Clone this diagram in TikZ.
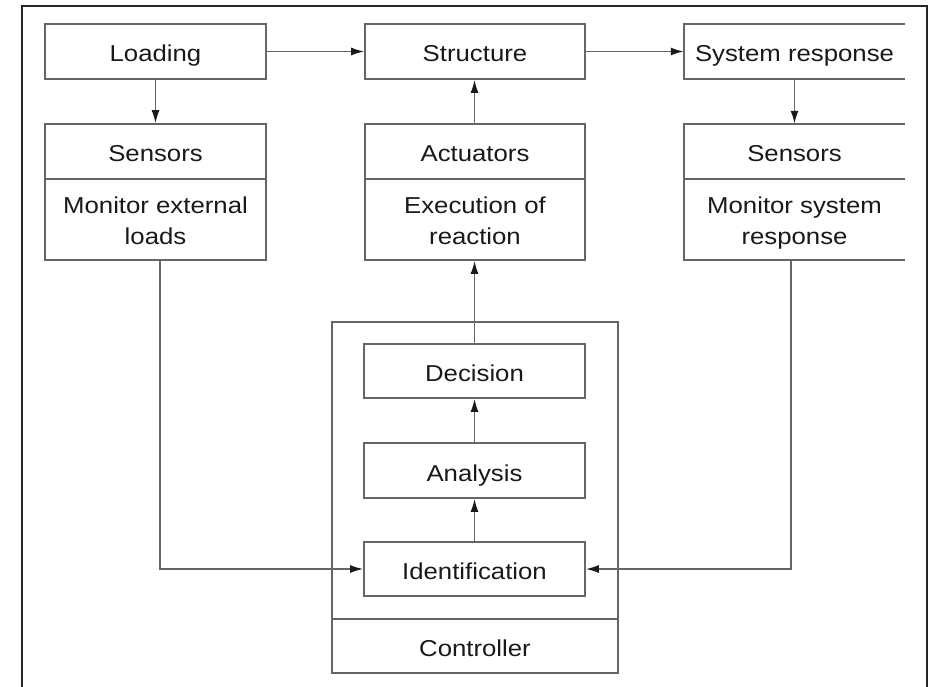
\documentclass[tikz,border=0pt]{standalone}
\usepackage{fontspec}
\setmainfont{Liberation Sans}[FakeStretch=1.12]
\usetikzlibrary{arrows.meta}
\begin{document}
\begin{tikzpicture}[x=1pt,y=-1pt,
  ln/.style={line width=1.6pt, draw=black!60},
  txt/.style={rectangle, inner sep=0pt, font=\fontsize{23}{31}\selectfont, align=center, text=black!90, text height=26pt, text depth=5pt},
  two/.style={text height=57pt, text depth=8pt},
  box/.style={txt, ln},
  arr/.style={ln, -{Latex[length=13pt,width=8pt,color=black!90]}},
]
\useasboundingbox (0,0) rectangle (929,687);
\draw[line width=1.1pt, black!85] (22,687) -- (22,6) -- (927,6) -- (927,687);

% left column
\node[box, minimum width=221pt, minimum height=55pt] (load) at (155.5,51.5) {Loading};
\node[box, minimum width=221pt, minimum height=55pt] (sensL) at (155.5,151.5) {Sensors};
\node[box, two, minimum width=221pt, minimum height=81pt] (monL) at (155.5,219.5) {Monitor external\\loads};

% middle column
\node[box, minimum width=220pt, minimum height=55pt] (struct) at (475,51.5) {Structure};
\node[box, minimum width=220pt, minimum height=55pt] (act) at (475,151.5) {Actuators};
\node[box, two, minimum width=220pt, minimum height=81pt] (exec) at (475,219.5) {Execution of\\reaction};

% right column (cut at right edge)
\node[txt, minimum width=221pt, minimum height=55pt] (sr) at (794.5,51.5) {System response};
\node[txt, minimum width=221pt, minimum height=55pt] (sensR) at (794.5,151.5) {Sensors};
\node[txt, two, minimum width=221pt, minimum height=81pt] (monR) at (794.5,219.5) {Monitor system\\response};
\draw[ln] (sr.north east) -- (sr.north west) -- (sr.south west) -- (sr.south east);
\draw[ln] (sensR.north east) -- (sensR.north west) -- (monR.south west) -- (monR.south east);
\draw[ln] (sensR.south west) -- (sensR.south east);

% controller
\node[box, minimum width=286pt, minimum height=297pt] (ctrl) at (475,470.5) {};
\node[box, minimum width=286pt, minimum height=54pt] (ctrllab) at (475,646) {Controller};
\node[box, minimum width=221pt, minimum height=54pt] (dec) at (474.5,371) {Decision};
\node[box, minimum width=221pt, minimum height=55pt] (ana) at (474.5,470.5) {Analysis};
\node[box, minimum width=221pt, minimum height=54pt] (ident) at (474.5,569) {Identification};

% connectors
\draw[arr] (load) -- (struct);
\draw[arr] (struct) -- (sr);
\draw[arr] (load) -- (sensL);
\draw[arr] (sr.south -| monR) -- (sensR.north -| monR);
\draw[arr] (act.north -| ident) -- (struct.south -| ident);
\draw[arr] (dec.north -| ident) -- (exec.south -| ident);
\draw[arr] (ident.north) -- (ana.south);
\draw[arr] (ana.north) -- (dec.south);
\coordinate (cl) at (160,569);
\coordinate (cr) at (791,569);
\draw[arr] (monL.south -| cl) -- (cl) -- (ident.west);
\draw[arr] (monR.south -| cr) -- (cr) -- (ident.east);
\end{tikzpicture}
\end{document}
